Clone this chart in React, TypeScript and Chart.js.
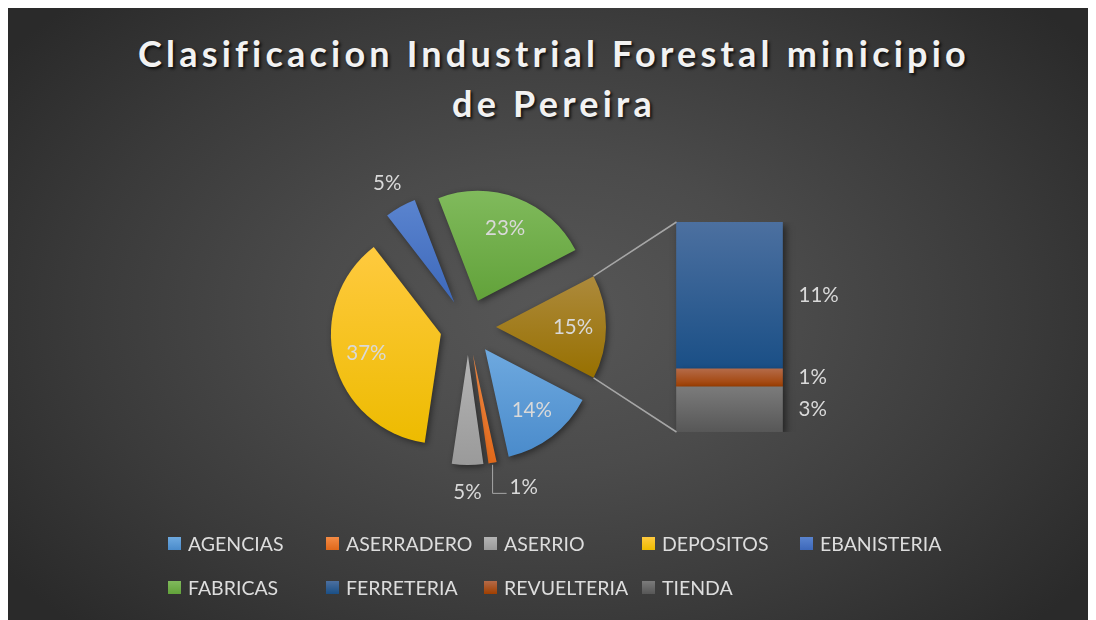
import React, { useEffect, useRef } from "react";
import { Chart, registerables } from "chart.js";

Chart.register(...registerables);

const TITLE_LINES = ["Clasificacion Industrial Forestal minicipio", "de Pereira"];
const PIE_CATEGORIES = ["AGENCIAS", "ASERRADERO", "ASERRIO", "DEPOSITOS", "EBANISTERIA", "FABRICAS"];
const PIE_VALUES = [13.9, 1.2, 4.6, 37.2, 4.6, 23.2];
const BAR_CATEGORIES = ["FERRETERIA", "REVUELTERIA", "TIENDA"];
const BAR_VALUES = [10.7, 1.3, 3.3];
const OTHER_LABEL = "Otro";

// styles
const PIE_TOP = ["#6EA9DF", "#F48B45", "#B4B4B4", "#FFCA3F", "#5A84CF", "#80BA5C", "#AD8A3C"];
const PIE_BOT = ["#4A8BCB", "#E0681A", "#9A9A9A", "#EDBB00", "#3D68BA", "#62A23A", "#977000"];
const BAR_TOP = ["#4C70A0", "#B46A48", "#7B7B7B"];
const BAR_BOT = ["#1A4F86", "#A03F00", "#575757"];
const FONT = "Lato, 'Open Sans', sans-serif";
const LABEL_COLOR = "#D9D9D9";
const EXPLODE = 28;
const RADIUS = 110;
const W = 1088;
const H = 614;

const otherTotal = BAR_VALUES.reduce((a, b) => a + b, 0);
const pieData = [...PIE_VALUES, otherTotal];
const grandTotal = pieData.reduce((a, b) => a + b, 0);
const pct = (v: number) => Math.round((v / grandTotal) * 100) + "%";

function sliceCenter(chart: any, el: any) {
  const ca = chart.chartArea;
  const cx = (ca.left + ca.right) / 2;
  const cy = (ca.top + ca.bottom) / 2;
  const mid = (el.startAngle + el.endAngle) / 2;
  return { x: cx + Math.cos(mid) * EXPLODE, y: cy + Math.sin(mid) * EXPLODE, mid };
}

const pieDecor = {
  id: "pieDecor",
  beforeDatasetsDraw(chart: any) {
    const ctx = chart.ctx;
    const meta = chart.getDatasetMeta(0);
    meta.data.forEach((el: any, i: number) => {
      const c = sliceCenter(chart, el);
      el.x = c.x;
      el.y = c.y;
      let minY = c.y;
      let maxY = c.y;
      for (let k = 0; k <= 30; k++) {
        const a = el.startAngle + ((el.endAngle - el.startAngle) * k) / 30;
        const y = c.y + Math.sin(a) * el.outerRadius;
        minY = Math.min(minY, y);
        maxY = Math.max(maxY, y);
      }
      const g = ctx.createLinearGradient(0, minY, 0, maxY + 0.01);
      g.addColorStop(0, PIE_TOP[i]);
      g.addColorStop(1, PIE_BOT[i]);
      el.options = Object.assign({}, el.options, { backgroundColor: g });
    });
    ctx.save();
    ctx.shadowColor = "rgba(0,0,0,0.45)";
    ctx.shadowBlur = 6;
    ctx.shadowOffsetX = 2;
    ctx.shadowOffsetY = 2;
  },
  afterDatasetsDraw(chart: any) {
    const ctx = chart.ctx;
    ctx.restore();
    const meta = chart.getDatasetMeta(0);
    ctx.save();
    ctx.font = `20.5px ${FONT}`;
    ctx.fillStyle = LABEL_COLOR;
    ctx.textBaseline = "middle";
    meta.data.forEach((el: any, i: number) => {
      const v = pieData[i];
      const p = (v / grandTotal) * 100;
      const c = sliceCenter(chart, el);
      const dx = Math.cos(c.mid);
      const dy = Math.sin(c.mid);
      const text = pct(v);
      if (p >= 10) {
        ctx.textAlign = "center";
        ctx.fillText(text, c.x + dx * RADIUS * 0.7, c.y + dy * RADIUS * 0.7);
      } else if (p >= 2) {
        ctx.textAlign = "center";
        ctx.fillText(text, c.x + dx * (RADIUS + 27), c.y + dy * (RADIUS + 27));
      } else {
        const ox = c.x + dx * RADIUS;
        const oy = c.y + dy * RADIUS;
        const ly = c.y + dy * (RADIUS + 27) - 2;
        ctx.strokeStyle = "#A6A6A6";
        ctx.lineWidth = 1;
        ctx.beginPath();
        ctx.moveTo(ox, oy + 2);
        ctx.lineTo(ox, ly + 6);
        ctx.lineTo(ox + 14, ly + 6);
        ctx.stroke();
        ctx.textAlign = "left";
        ctx.fillText(text, ox + 17, ly);
      }
    });
    ctx.restore();
  },
};

export default function App() {
  const pieRef = useRef<HTMLCanvasElement | null>(null);
  const barRef = useRef<HTMLCanvasElement | null>(null);

  useEffect(() => {
    document.body.style.overflow = "hidden";
    document.documentElement.style.overflow = "hidden";
    if (!pieRef.current || !barRef.current) return;

    const pieChart = new Chart(pieRef.current, {
      type: "pie",
      data: {
        labels: [...PIE_CATEGORIES, OTHER_LABEL],
        datasets: [
          {
            data: pieData,
            backgroundColor: PIE_BOT,
            borderWidth: 0,
          },
        ],
      },
      options: {
        responsive: false,
        animation: false,
        events: [],
        radius: RADIUS,
        rotation: 90 + ((otherTotal / grandTotal) * 360) / 2,
        layout: { padding: { left: 0, right: 168, top: 28, bottom: 0 } },
        plugins: {
          legend: { display: false },
          tooltip: { enabled: false },
          title: { display: false },
        },
      } as any,
      plugins: [pieDecor],
    });

    const barDecor = {
      id: "barDecor",
      beforeDatasetsDraw(chart: any) {
        const ctx = chart.ctx;
        chart.data.datasets.forEach((_: any, di: number) => {
          const idx = BAR_CATEGORIES.length - 1 - di;
          chart.getDatasetMeta(di).data.forEach((el: any) => {
            const g = ctx.createLinearGradient(0, el.y, 0, el.base + 0.01);
            g.addColorStop(0, BAR_TOP[idx]);
            g.addColorStop(1, BAR_BOT[idx]);
            el.options = Object.assign({}, el.options, { backgroundColor: g });
          });
        });
        ctx.save();
        ctx.shadowColor = "rgba(0,0,0,0.5)";
        ctx.shadowBlur = 7;
        ctx.shadowOffsetX = 3;
        ctx.shadowOffsetY = 3;
      },
      afterDatasetsDraw(chart: any) {
        const ctx = chart.ctx;
        ctx.restore();
        ctx.save();
        ctx.font = `20.5px ${FONT}`;
        ctx.fillStyle = LABEL_COLOR;
        ctx.textBaseline = "middle";
        ctx.textAlign = "left";
        chart.data.datasets.forEach((_: any, di: number) => {
          const idx = BAR_CATEGORIES.length - 1 - di;
          chart.getDatasetMeta(di).data.forEach((el: any) => {
            ctx.fillText(pct(BAR_VALUES[idx]), el.x + el.width / 2 + 16, (el.y + el.base) / 2);
          });
        });
        // connector lines from the "other" slice to the bar
        const pm = pieChart.getDatasetMeta(0);
        const oel: any = pm.data[pm.data.length - 1];
        if (oel) {
          const c = sliceCenter(pieChart, oel);
          const top: any = chart.getDatasetMeta(chart.data.datasets.length - 1).data[0];
          const bot: any = chart.getDatasetMeta(0).data[0];
          const left = top.x - top.width / 2;
          ctx.strokeStyle = "#A6A6A6";
          ctx.lineWidth = 1.5;
          ctx.beginPath();
          ctx.moveTo(c.x + Math.cos(oel.startAngle) * RADIUS, c.y + Math.sin(oel.startAngle) * RADIUS);
          ctx.lineTo(left, top.y);
          ctx.moveTo(c.x + Math.cos(oel.endAngle) * RADIUS, c.y + Math.sin(oel.endAngle) * RADIUS);
          ctx.lineTo(left, bot.base);
          ctx.stroke();
        }
        ctx.restore();
      },
    };

    const barChart = new Chart(barRef.current, {
      type: "bar",
      data: {
        labels: [OTHER_LABEL],
        datasets: BAR_CATEGORIES.map((name, i) => ({
          label: name,
          data: [BAR_VALUES[i]],
          backgroundColor: BAR_BOT[i],
          borderWidth: 0,
          barThickness: 106,
        })).reverse(),
      },
      options: {
        responsive: false,
        animation: false,
        events: [],
        layout: { padding: { left: 600, right: 245, top: 216, bottom: 188 } },
        scales: {
          x: { display: false, stacked: true },
          y: { display: false, stacked: true, min: 0, max: otherTotal },
        },
        plugins: {
          legend: { display: false },
          tooltip: { enabled: false },
          title: { display: false },
        },
      } as any,
      plugins: [barDecor],
    });

    return () => {
      barChart.destroy();
      pieChart.destroy();
    };
  }, []);

  const legendItems = [
    ...PIE_CATEGORIES.map((n, i) => ({ n, top: PIE_TOP[i], bot: PIE_BOT[i] })),
    ...BAR_CATEGORIES.map((n, i) => ({ n, top: BAR_TOP[i], bot: BAR_BOT[i] })),
  ];

  return (
    <div
      style={{
        position: "relative",
        width: W,
        height: H,
        marginTop: -2,
        overflow: "hidden",
        background:
          "radial-gradient(ellipse 62% 72% at 50% 50%, #575757 0%, #4b4b4b 35%, #3a3a3a 70%, #2a2a2a 100%)",
      }}
    >
      <div
        style={{
          position: "absolute",
          left: 0,
          top: 22,
          width: W,
          boxSizing: "border-box",
          paddingLeft: 4,
          textAlign: "center",
          fontFamily: FONT,
          fontWeight: 700,
          fontSize: 36,
          lineHeight: "50px",
          letterSpacing: "4.2px",
          color: "#F2F2F2",
          textShadow: "2px 2px 3px rgba(0,0,0,0.75)",
        }}
      >
        {TITLE_LINES.map((t) => (
          <div key={t}>{t}</div>
        ))}
      </div>
      <canvas ref={pieRef} width={W} height={H} style={{ position: "absolute", left: 0, top: 0 }} />
      <canvas ref={barRef} width={W} height={H} style={{ position: "absolute", left: 0, top: 0 }} />
      <div
        style={{
          position: "absolute",
          left: 160,
          top: 515,
          display: "grid",
          gridTemplateColumns: "repeat(5, 158px)",
          gridAutoRows: "44px",
          fontFamily: FONT,
          fontSize: 19.5,
          color: "#DDDDDD",
        }}
      >
        {legendItems.map((it) => (
          <div key={it.n} style={{ display: "flex", alignItems: "center", whiteSpace: "nowrap" }}>
            <span
              style={{
                display: "inline-block",
                width: 13,
                height: 13,
                marginRight: 7,
                flexShrink: 0,
                background: `linear-gradient(${it.top}, ${it.bot})`,
              }}
            />
            <span>{it.n}</span>
          </div>
        ))}
      </div>
    </div>
  );
}
